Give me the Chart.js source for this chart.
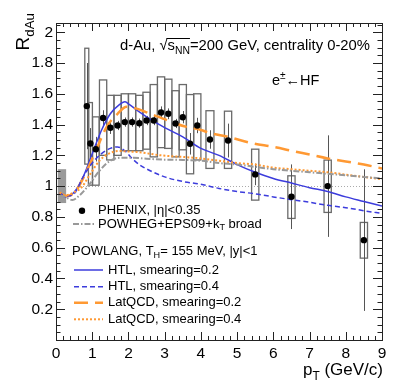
<!DOCTYPE html>
<html lang="en">
<head>
<meta charset="UTF-8">
<title>RdAu e from HF</title>
<style>
  body { margin: 0; background: #fff; }
  #wrap { width: 399px; height: 387px; }
</style>
</head>
<body>
<div id="wrap"><canvas id="raaChart" width="399" height="387"></canvas></div>
<script src="https://cdn.jsdelivr.net/npm/chart.js"></script>
<script>
// PHENIX e+- <- HF, d-Au 0-20%
const phenixPt   = [0.85, 0.95, 1.1, 1.3, 1.5, 1.7, 1.9, 2.1, 2.3, 2.5, 2.7, 2.9, 3.1, 3.3, 3.5, 3.7, 3.9, 4.25, 4.75, 5.5, 6.5, 7.5, 8.5];
const phenixR    = [1.52, 1.277, 1.24, 1.443, 1.379, 1.394, 1.416, 1.416, 1.409, 1.426, 1.426, 1.478, 1.470, 1.407, 1.448, 1.275, 1.394, 1.303, 1.296, 1.076, 0.931, 1.0, 0.649];
const phenixStat = [0.28, 0.1, 0.08, 0.05, 0.04, 0.03, 0.03, 0.03, 0.03, 0.03, 0.03, 0.04, 0.035, 0.03, 0.04, 0.07, 0.05, 0.06, 0.11, 0.07, 0.21, 0.33, 0.46];
const phenixSysHi = [1.896, 1.543, 1.45, 1.69, 1.59, 1.59, 1.60, 1.60, 1.59, 1.61, 1.66, 1.71, 1.695, 1.62, 1.66, 1.595, 1.60, 1.49, 1.487, 1.24, 1.067, 1.169, 0.764];
const phenixSysLo = [1.143, 1.006, 1.006, 1.2, 1.17, 1.2, 1.23, 1.23, 1.23, 1.24, 1.19, 1.25, 1.245, 1.19, 1.236, 1.08, 1.17, 1.115, 1.115, 0.909, 0.79, 0.829, 0.532];
const phenixBinHalf = [0.055, 0.055, 0.09, 0.1, 0.1, 0.1, 0.1, 0.1, 0.1, 0.1, 0.1, 0.1, 0.1, 0.1, 0.1, 0.1, 0.1, 0.11, 0.1, 0.1, 0.1, 0.1, 0.1];
// global normalisation box near pT = 0
const normBoxPt = [0.05, 0.28];
const normBoxR  = [0.89, 1.11];

// POWHEG+EPS09+kT broad
const powhegPt = [0.1, 0.25, 0.45, 0.65, 0.95, 1.2, 1.5, 1.8, 2.1, 2.5, 3.0, 3.5, 4.0, 4.5, 5.0, 5.5, 6.0, 6.5, 7.0, 7.5, 8.0, 8.5, 9.0];
const powhegR  = [0.94, 0.93, 0.91, 0.94, 1.02, 1.10, 1.165, 1.185, 1.185, 1.178, 1.172, 1.17, 1.165, 1.15, 1.14, 1.125, 1.11, 1.10, 1.09, 1.08, 1.07, 1.06, 1.05];

// POWLANG HTL smearing 0.2 / 0.4
const htl02Pt = [0.1, 0.25, 0.5, 0.75, 1.0, 1.25, 1.5, 1.75, 1.9, 2.0, 2.25, 2.5, 3.0, 3.5, 4.0, 4.5, 5.0, 5.5, 6.0, 6.5, 7.0, 7.5, 8.0, 8.5, 9.0];
const htl02R  = [0.955, 0.93, 0.96, 1.06, 1.21, 1.36, 1.47, 1.53, 1.548, 1.535, 1.49, 1.45, 1.38, 1.32, 1.245, 1.20, 1.14, 1.09, 1.05, 1.02, 0.99, 0.965, 0.93, 0.90, 0.87];
const htl04Pt = [0.1, 0.3, 0.5, 0.75, 1.0, 1.25, 1.5, 1.7, 1.9, 2.1, 2.3, 2.6, 3.0, 3.5, 4.0, 4.5, 5.0, 5.5, 6.0, 6.5, 7.0, 7.5, 8.0, 8.5, 9.0];
const htl04R  = [0.955, 0.935, 0.95, 1.06, 1.15, 1.21, 1.245, 1.255, 1.23, 1.18, 1.14, 1.10, 1.06, 1.03, 1.012, 0.985, 0.965, 0.95, 0.93, 0.912, 0.895, 0.875, 0.86, 0.84, 0.822];

// POWLANG LatQCD smearing 0.2 / 0.4
const lat02Pt = [0.1, 0.3, 0.55, 0.85, 1.1, 1.4, 1.7, 1.95, 2.2, 2.6, 3.0, 3.3, 3.6, 4.0, 4.25, 4.75, 5.4, 6.0, 6.5, 7.0, 7.5, 8.0, 8.5, 9.0];
const lat02R  = [0.955, 0.935, 0.97, 1.10, 1.23, 1.385, 1.47, 1.515, 1.505, 1.47, 1.435, 1.407, 1.385, 1.365, 1.345, 1.32, 1.28, 1.255, 1.23, 1.205, 1.18, 1.16, 1.14, 1.115];
const lat04Pt = [0.1, 0.25, 0.5, 0.7, 0.95, 1.2, 1.45, 1.75, 2.0, 2.3, 2.9, 3.5, 4.0, 4.5, 5.0, 5.5, 6.0, 6.5, 7.0, 7.5, 8.0, 8.5, 9.0];
const lat04R  = [0.96, 0.94, 0.96, 0.99, 1.08, 1.165, 1.21, 1.228, 1.225, 1.22, 1.20, 1.19, 1.18, 1.165, 1.15, 1.14, 1.12, 1.11, 1.10, 1.09, 1.075, 1.06, 1.045];

const xTicks = [0, 1, 2, 3, 4, 5, 6, 7, 8, 9];
const yTicks = [0.2, 0.4, 0.6, 0.8, 1, 1.2, 1.4, 1.6, 1.8, 2];

const FONT = '"Liberation Sans", Arial, Helvetica, sans-serif';
const BLUE = '#3c3cdc';
const ORANGE = '#ff9933';
const GREY = '#999999';

function pts(xs, ys) { return xs.map((x, i) => ({ x: x, y: ys[i] })); }

function curve(label, xs, ys, color, width, dash) {
    return {
        type: 'line', label: label, data: pts(xs, ys),
        borderColor: color, borderWidth: width, borderDash: dash,
        pointRadius: 0, fill: false, cubicInterpolationMode: 'monotone', order: 2
    };
}

const datasets = [
    curve('POWHEG+EPS09+kT broad', powhegPt, powhegR, GREY, 2, [6, 2, 1.5, 2]),
    curve('LatQCD, smearing=0.4', lat04Pt, lat04R, ORANGE, 2, [2, 2]),
    curve('HTL, smearing=0.4', htl04Pt, htl04R, BLUE, 1.5, [5, 3]),
    curve('LatQCD, smearing=0.2', lat02Pt, lat02R, ORANGE, 2.5, [14, 7]),
    curve('HTL, smearing=0.2', htl02Pt, htl02R, BLUE, 1.5, []),
    {
        type: 'scatter', label: 'PHENIX, |η|<0.35', data: pts(phenixPt, phenixR),
        backgroundColor: '#000', borderColor: '#000', pointRadius: 3.2, borderWidth: 0, order: 0
    }
];

// rich text with sub/superscripts, returns end x
function rich(ctx, x, y, size, parts) {
    let cx = x;
    ctx.textAlign = 'left';
    for (const p of parts) {
        const small = p.sub || p.sup;
        const fs = small ? size * 0.7 : size;
        ctx.font = fs + 'px ' + FONT;
        const dy = p.sub ? size * 0.28 : (p.sup ? -size * 0.4 : 0);
        ctx.fillText(p.t, cx, y + dy);
        cx += ctx.measureText(p.t).width;
    }
    return cx;
}

function richWidth(ctx, size, parts) {
    let w = 0;
    for (const p of parts) {
        ctx.font = ((p.sub || p.sup) ? size * 0.7 : size) + 'px ' + FONT;
        w += ctx.measureText(p.t).width;
    }
    return w;
}

function sampleLine(ctx, x1, x2, y, ds) {
    ctx.save();
    ctx.strokeStyle = ds.borderColor;
    ctx.lineWidth = ds.borderWidth;
    ctx.setLineDash(ds.borderDash || []);
    ctx.beginPath(); ctx.moveTo(x1, y); ctx.lineTo(x2, y); ctx.stroke();
    ctx.restore();
}

const decor = {
    id: 'decor',
    beforeDatasetsDraw(chart) {
        const ctx = chart.ctx, xs = chart.scales.x, ys = chart.scales.y;
        const a = chart.chartArea;
        ctx.save();
        // normalisation uncertainty
        ctx.fillStyle = '#9a9a9a';
        const nx1 = xs.getPixelForValue(normBoxPt[0]), nx2 = xs.getPixelForValue(normBoxPt[1]);
        const ny1 = ys.getPixelForValue(normBoxR[1]), ny2 = ys.getPixelForValue(normBoxR[0]);
        ctx.fillRect(nx1, ny1, nx2 - nx1, ny2 - ny1);
        // unity line
        ctx.strokeStyle = '#aaa';
        ctx.lineWidth = 1;
        ctx.setLineDash([1, 2]);
        const y1 = Math.round(ys.getPixelForValue(1)) + 0.5;
        ctx.beginPath(); ctx.moveTo(a.left, y1); ctx.lineTo(a.right, y1); ctx.stroke();
        ctx.setLineDash([]);
        // systematic boxes
        ctx.strokeStyle = '#6a6a6a';
        ctx.lineWidth = 1.3;
        phenixPt.forEach((pt, i) => {
            const bx1 = xs.getPixelForValue(pt - phenixBinHalf[i]);
            const bx2 = xs.getPixelForValue(pt + phenixBinHalf[i]);
            const by1 = ys.getPixelForValue(phenixSysHi[i]);
            const by2 = ys.getPixelForValue(phenixSysLo[i]);
            ctx.strokeRect(bx1, by1, bx2 - bx1, by2 - by1);
        });
        // statistical errors
        ctx.strokeStyle = '#555';
        ctx.lineWidth = 1;
        phenixPt.forEach((pt, i) => {
            const px = Math.round(xs.getPixelForValue(pt)) + 0.5;
            ctx.beginPath();
            ctx.moveTo(px, ys.getPixelForValue(phenixR[i] + phenixStat[i]));
            ctx.lineTo(px, ys.getPixelForValue(phenixR[i] - phenixStat[i]));
            ctx.stroke();
        });
        ctx.restore();
    },
    afterDraw(chart) {
        const ctx = chart.ctx, xs = chart.scales.x, ys = chart.scales.y;
        const a = chart.chartArea;
        ctx.save();
        // frame
        ctx.strokeStyle = '#222';
        ctx.lineWidth = 1;
        ctx.strokeRect(Math.round(a.left) + 0.5, Math.round(a.top) + 0.5,
            Math.round(a.right - a.left), Math.round(a.bottom - a.top));
        // inner ticks, all four sides
        ctx.beginPath();
        for (let i = 0; i <= 45; i++) {
            const px = Math.round(xs.getPixelForValue(i * 0.2)) + 0.5;
            const len = i % 5 === 0 ? 8 : 4;
            ctx.moveTo(px, a.bottom); ctx.lineTo(px, a.bottom - len);
            ctx.moveTo(px, a.top); ctx.lineTo(px, a.top + len);
        }
        for (let i = 0; i * 0.05 <= ys.max + 1e-9; i++) {
            const py = Math.round(ys.getPixelForValue(i * 0.05)) + 0.5;
            const len = i % 4 === 0 ? 9 : 4.5;
            ctx.moveTo(a.left, py); ctx.lineTo(a.left + len, py);
            ctx.moveTo(a.right, py); ctx.lineTo(a.right - len, py);
        }
        ctx.stroke();

        ctx.fillStyle = '#000';
        ctx.textBaseline = 'alphabetic';
        // axis titles
        rich(ctx, 383 - richWidth(ctx, 17, [{ t: 'p' }, { t: 'T', sub: true }, { t: ' (GeV/c)' }]), 375, 17,
            [{ t: 'p' }, { t: 'T', sub: true }, { t: ' (GeV/c)' }]);
        const yTitle = [{ t: 'R' }, { t: 'dAu', sub: true }];
        ctx.save();
        ctx.translate(29, 13);
        ctx.rotate(-Math.PI / 2);
        rich(ctx, -richWidth(ctx, 19, yTitle), 0, 19, yTitle);
        ctx.restore();

        // header
        const hs = 14.8;
        let cx = rich(ctx, 120, 50, hs, [{ t: 'd-Au, ' }]);
        cx = rich(ctx, cx, 50, hs, [{ t: '√' }]);
        const ovStart = cx;
        cx = rich(ctx, cx, 50, hs, [{ t: 's' }, { t: 'NN', sub: true }]);
        ctx.lineWidth = 1;
        ctx.strokeStyle = '#000';
        ctx.beginPath(); ctx.moveTo(ovStart - 1, 38.5); ctx.lineTo(cx, 38.5); ctx.stroke();
        rich(ctx, cx, 50, hs, [{ t: '=200 GeV, centrality 0-20%' }]);
        rich(ctx, 272, 85, 14.5, [{ t: 'e' }, { t: '±', sup: true }, { t: '←HF' }]);

        // legend
        const ls = 13;
        ctx.textBaseline = 'middle';
        const ds = chart.data.datasets;
        ctx.beginPath(); ctx.arc(82, 210.7, 3.2, 0, Math.PI * 2); ctx.fill();
        rich(ctx, 98, 210.7, ls, [{ t: 'PHENIX, |η|<0.35' }]);
        sampleLine(ctx, 73, 95, 224, ds[0]);
        rich(ctx, 98, 224, ls, [{ t: 'POWHEG+EPS09+k' }, { t: 'T', sub: true }, { t: ' broad' }]);
        rich(ctx, 72, 251.7, ls, [{ t: 'POWLANG, T' }, { t: 'H', sub: true }, { t: '= 155 MeV, |y|<1' }]);
        const rows = [[ds[4], 270], [ds[2], 286.7], [ds[3], 302.7], [ds[1], 319.3]];
        rows.forEach(([d, y]) => {
            sampleLine(ctx, 74, 103, y, d);
            rich(ctx, 108, y, ls, [{ t: d.label }]);
        });
        ctx.restore();
    }
};

new Chart(document.getElementById('raaChart'), {
    data: { datasets: datasets },
    options: {
        responsive: false,
        animation: false,
        layout: { padding: { top: 23, right: 17, left: 0, bottom: 0 } },
        plugins: { legend: { display: false }, tooltip: { enabled: false } },
        scales: {
            x: {
                type: 'linear', min: 0, max: 9,
                afterFit: s => { s.height = 47; },
                afterBuildTicks: s => { s.ticks = xTicks.map(v => ({ value: v })); },
                grid: { display: false, drawTicks: false },
                border: { display: false },
                ticks: { padding: 4, color: '#000', maxRotation: 0, font: { family: FONT, size: 15.5 } }
            },
            y: {
                type: 'linear', min: 0, max: 2.06,
                afterFit: s => { s.width = 56; },
                afterBuildTicks: s => { s.ticks = yTicks.map(v => ({ value: v })); },
                grid: { display: false, drawTicks: false },
                border: { display: false },
                ticks: { padding: 3, color: '#000', font: { family: FONT, size: 15.5 },
                    callback: v => String(parseFloat(Number(v).toFixed(1))) }
            }
        }
    },
    plugins: [decor]
});
</script>
</body>
</html>
